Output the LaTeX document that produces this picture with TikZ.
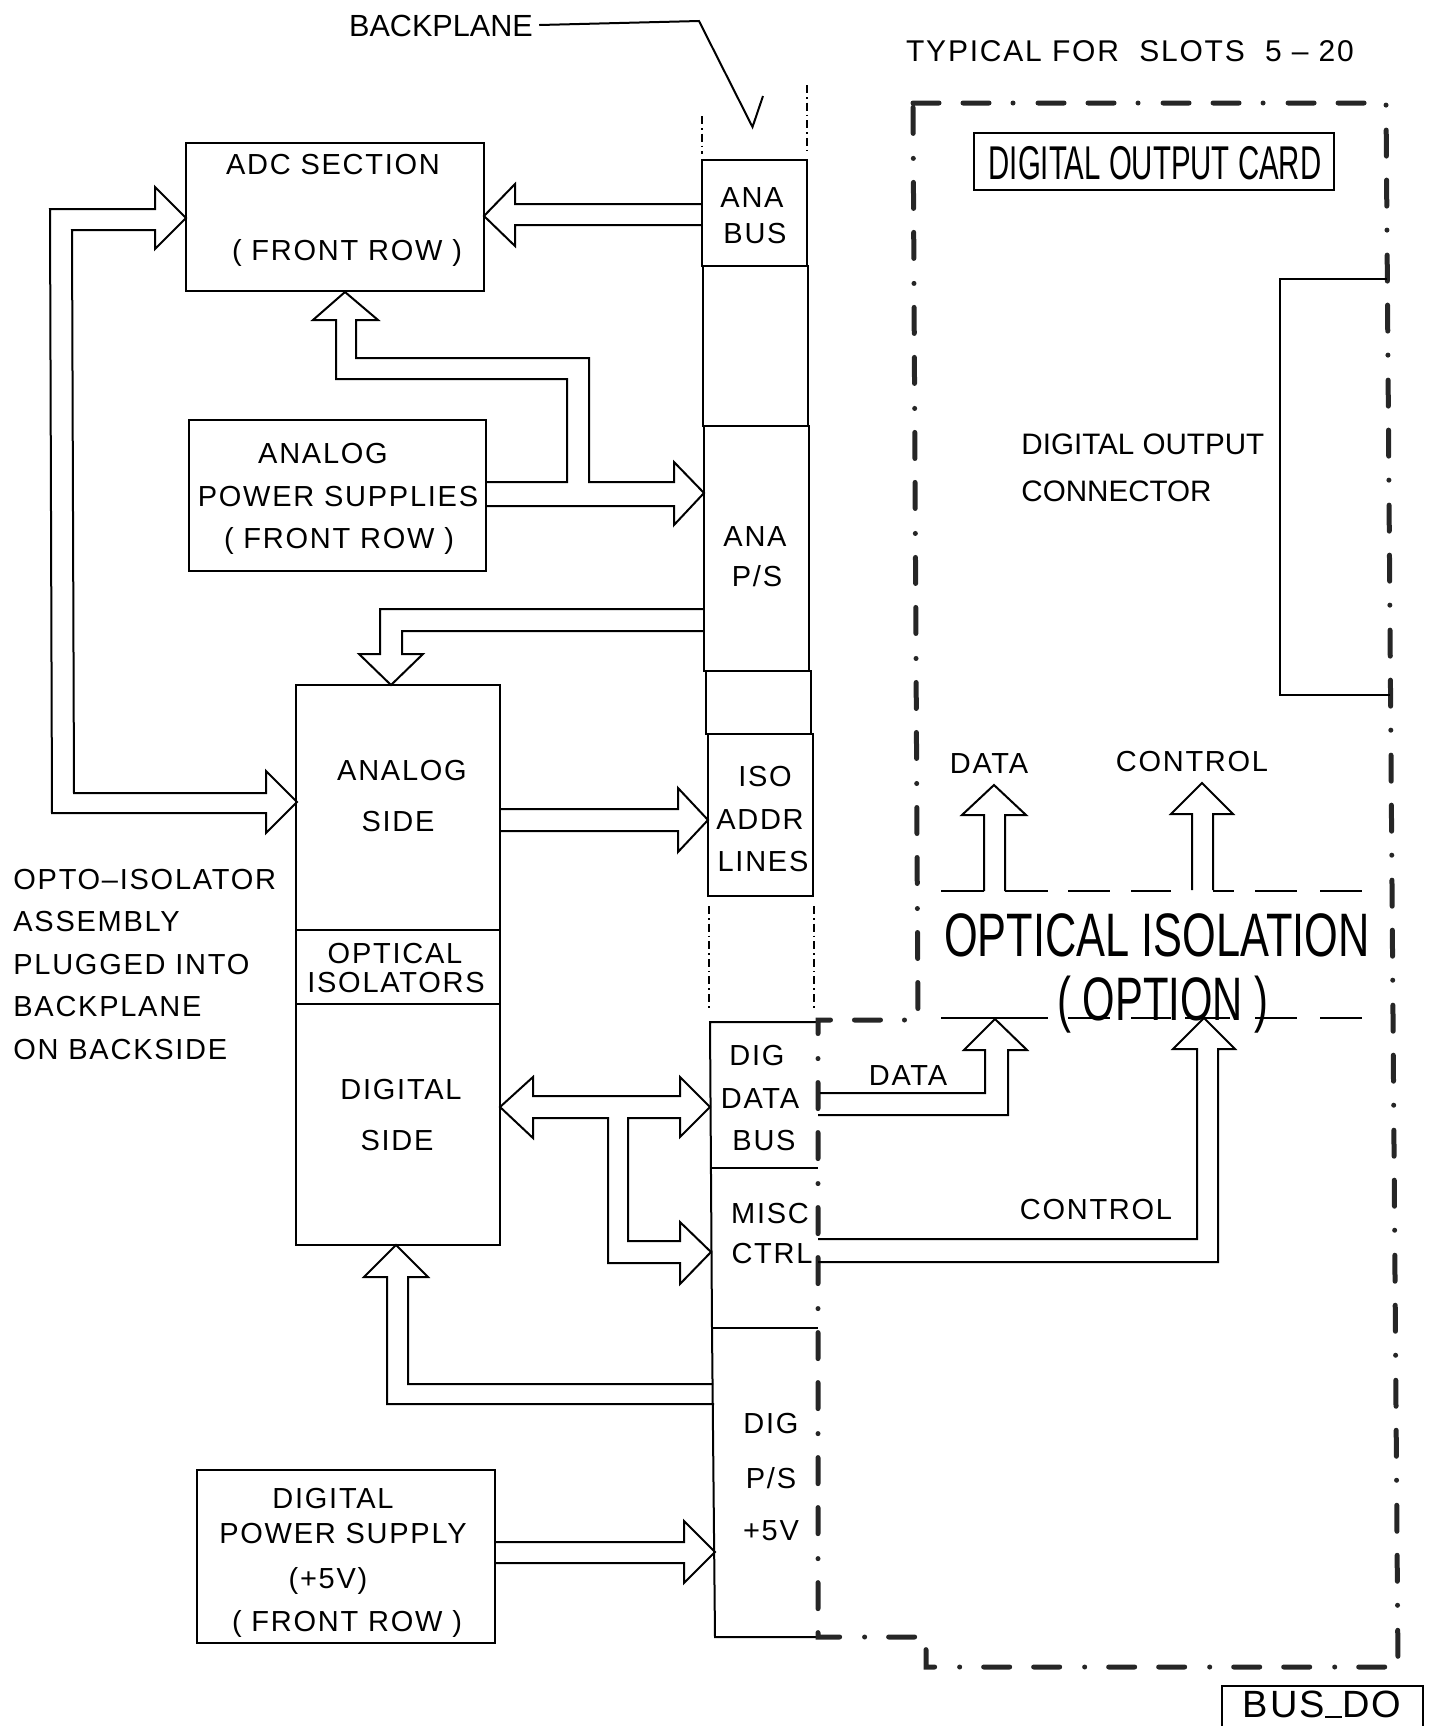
\documentclass[tikz,border=0pt]{standalone}
\usepackage{fontspec}
\setmainfont{Liberation Sans}[LetterSpace=6]
\newfontfamily\plainfont{Liberation Sans}
\usepackage{graphicx}
\usetikzlibrary{fit}
\begin{document}
\begin{tikzpicture}[x=0.5pt,y=-0.5pt,
  box/.style={draw, line width=1pt, inner sep=0pt},
  harrow/.style={draw, line width=1pt, line join=miter},
  ln/.style={line width=1pt},
  txt/.style={inner sep=0pt, text height=10.4pt, text depth=0pt, font=\fontsize{14.5}{17}\selectfont},
  txtp/.style={inner sep=0pt, text height=10.6pt, text depth=0pt, font=\plainfont\fontsize{14.8}{17}\selectfont},
  txtl/.style={inner sep=0pt, text height=11pt, text depth=0pt, font=\plainfont\fontsize{15.3}{18}\selectfont},
  txtt/.style={inner sep=0pt, text height=11pt, text depth=0pt, font=\fontsize{15}{18}\selectfont},
  cond/.style={inner sep=0pt, text height=17pt, text depth=0pt, font=\plainfont\fontsize{23.7}{26}\selectfont},
  condbig/.style={inner sep=0pt, text height=22pt, text depth=0pt, font=\plainfont\fontsize{30.7}{33}\selectfont},
  busdo/.style={inner sep=0pt, text height=13.5pt, text depth=0pt, font=\fontsize{19}{22}\selectfont},
  border/.style={line width=2.5pt, line cap=round, draw=black!85,
    dash pattern=on 13pt off 12pt on 13pt off 12pt on 0.01pt off 12.5pt},
  bpdash/.style={line width=0.7pt, dash pattern=on 4pt off 2pt on 0.8pt off 2pt},
  thin/.style={line width=0.9pt}
]
\useasboundingbox (0,0) rectangle (1436,1726);

% ---------- main boxes ----------
\node[box, fit={(186,143) (484,291)}] (adc) {};
\node[box, fit={(189,420) (486,571)}] (aps) {};
\node[box, fit={(296,685) (500,1245)}] (opto) {};
\draw[ln] (296,930) -- (500,930);
\draw[ln] (296,1004) -- (500,1004);
\node[box, fit={(197,1470) (495,1643)}] (dps) {};

% ---------- backplane column ----------
\node[box, fit={(702,160) (807,266)}] (anabus) {};
\node[box, fit={(703,266) (808,426)}] (bpa) {};
\node[box, fit={(704,426) (809,671)}] (anaps) {};
\node[box, fit={(706,671) (811,734)}] (bpb) {};
\node[box, fit={(708,734) (813,896)}] (isoaddr) {};
\draw[bpdash] (702,116) -- (702,154);
\draw[bpdash] (807,85) -- (807,152);
\draw[bpdash] (709,906) -- (709,1011);
\draw[bpdash] (814,906) -- (814,1011);
\coordinate (digdatatl) at (710,1022);
\coordinate (digpsbl) at (715,1637);
\draw[ln] (818,1022) -- (digdatatl) -- (712,1328) -- (digpsbl) -- (818,1637);
\draw[ln] (711,1168) -- (818,1168);
\draw[ln] (712,1328) -- (818,1328);

% ---------- card border ----------
\draw[border] (913,103) -- (1386,103) -- (1398,1667) -- (926,1667) -- (926,1637)
  -- (818,1637) -- (818,1020) -- (918,1020) -- cycle;
\node[box, fit={(974,133) (1334,190)}] (cardbox) {};
\coordinate (conntr) at (1387,279);
\draw[ln] (conntr) -- (1280,279) -- (1280,695) -- (1390,695);
\coordinate (busdotl) at (1222,1686);
\draw[ln] (1222,1730) -- (busdotl) -- (1423,1686) -- (1423,1730);

% ---------- backplane leader ----------
\node[txtl] (bplbl) at (441,25) {BACKPLANE};
\draw[ln] (bplbl.east) ++(6,0) -- (699,21) -- (752.5,127) -- (763,96);

% ---------- hollow arrows ----------
% ANA BUS -> ADC
\draw[harrow] (702,204) -- (515,204) -- (515,184) -- (484,216) -- (515,246) -- (515,225) -- (702,225);
% ADC <-> ANALOG SIDE (left loop)
\draw[harrow] (155,209) -- (50,209) -- (52,813) -- (266,813) -- (266,833) -- (297,802)
  -- (266,771) -- (266,793) -- (74,793) -- (72,230) -- (155,230) -- (155,249)
  -- (186,218) -- (155,187) -- cycle;
% ANALOG PS -> ANA P/S and ADC
\draw[harrow] (487,482) -- (567,482) -- (567,379) -- (336,379) -- (336,320) -- (313,320)
  -- (345,292) -- (378,320) -- (356,320) -- (356,358) -- (589,358) -- (589,482)
  -- (674,482) -- (674,462) -- (704,493) -- (674,525) -- (674,506) -- (487,506);
% ANA P/S -> ANALOG SIDE
\draw[harrow] (704,609) -- (380,609) -- (380,654) -- (359,654) -- (391,685) -- (423,654)
  -- (402,654) -- (402,631) -- (704,631);
% ANALOG SIDE -> ISO ADDR
\draw[harrow] (500,809) -- (678,809) -- (678,788) -- (708,820) -- (678,852) -- (678,831) -- (500,831);
% DIGITAL SIDE <-> DIG DATA BUS / MISC CTRL
\draw[harrow] (500,1107) -- (533,1077) -- (533,1096) -- (680,1096) -- (680,1077) -- (710,1107)
  -- (680,1137) -- (680,1118) -- (628,1118) -- (628,1241) -- (680,1241) -- (680,1222)
  -- (711,1252) -- (680,1284) -- (680,1263) -- (608,1263) -- (608,1118) -- (533,1118)
  -- (533,1138) -- cycle;
% DIG P/S -> DIGITAL SIDE
\draw[harrow] (713,1384) -- (408,1384) -- (408,1277) -- (428,1277) -- (396,1245) -- (364,1277)
  -- (387,1277) -- (387,1404) -- (714,1404);
% DIGITAL PS -> DIG P/S
\draw[harrow] (495,1542) -- (684,1542) -- (684,1521) -- (715,1552) -- (684,1583) -- (684,1563) -- (495,1563);
% DIG DATA BUS -> optical isolation (DATA)
\draw[harrow] (818,1115) -- (1008,1115) -- (1008,1050) -- (1027,1050) -- (995,1019)
  -- (964,1050) -- (985,1050) -- (985,1093) -- (820,1093);
% MISC CTRL -> optical isolation (CONTROL)
\draw[harrow] (818,1262) -- (1218,1262) -- (1218,1049) -- (1235,1049) -- (1204,1018)
  -- (1173,1049) -- (1197,1049) -- (1197,1239) -- (818,1239);
% upward DATA / CONTROL
\draw[harrow] (984,891) -- (984,815) -- (962,815) -- (994,785) -- (1026,815) -- (1005,815) -- (1005,891);
\draw[harrow] (1192,890) -- (1192,814) -- (1171,814) -- (1202,783) -- (1233,814) -- (1213,814) -- (1213,890);

% optical isolation dashed lines
\foreach \a/\b in {941/984, 1005/1048, 1068/1110, 1131/1171, 1213/1234, 1255/1297, 1320/1362}
  \draw[thin] (\a,891) -- (\b,891);
\foreach \a/\b in {941/994, 994/1048, 1068/1110, 1131/1171, 1185/1230, 1255/1297, 1320/1362}
  \draw[thin] (\a,1018) -- (\b,1018);

% ---------- texts ----------
\node[txtt] (typ) at (1130,50) {TYPICAL FOR\ \ SLOTS\ \ 5 – 20};
\node[txt] (t1) at (333,164) {ADC SECTION};
\node[txt] (t2) at (347,250) {( FRONT ROW )};
\node[txt] (t3) at (752,197) {ANA};
\node[txt] (t4) at (755,233) {BUS};
\node[txt] (t5) at (323,453) {ANALOG};
\node[txt] (t6) at (338,496) {POWER SUPPLIES};
\node[txt] (t7) at (339,538) {( FRONT ROW )};
\node[txt] (t8) at (755,536) {ANA};
\node[txt] (t9) at (757,576) {P/S};
\node[txt] (t10) at (402,770) {ANALOG};
\node[txt] (t11) at (398,821) {SIDE};
\node[txt] (t12) at (395,953) {OPTICAL};
\node[txt] (t13) at (396,982) {ISOLATORS};
\node[txt] (t14) at (401,1089) {DIGITAL};
\node[txt] (t15) at (397,1140) {SIDE};
\node[txt] (t16) at (765,776) {ISO};
\node[txt] (t17) at (760,819) {ADDR};
\node[txt] (t18) at (763,861) {LINES};
\node[txt, anchor=west] (t19) at (13,879) {OPTO–ISOLATOR};
\node[txt, anchor=west] (t20) at (13,921) {ASSEMBLY};
\node[txt, anchor=west] (t21) at (13,964) {PLUGGED INTO};
\node[txt, anchor=west] (t22) at (13,1006) {BACKPLANE};
\node[txt, anchor=west] (t23) at (13,1049) {ON BACKSIDE};
\node[txt] (t24) at (757,1055) {DIG};
\node[txt] (t25) at (760,1098) {DATA};
\node[txt] (t26) at (764,1140) {BUS};
\node[txt] (t27) at (770,1213) {MISC};
\node[txt] (t28) at (772,1253) {CTRL};
\node[txt] (t29) at (771,1423) {DIG};
\node[txt] (t30) at (771,1478) {P/S};
\node[txt] (t31) at (771,1530) {+5V};
\node[txt] (t32) at (333,1498) {DIGITAL};
\node[txt] (t33) at (343,1533) {POWER SUPPLY};
\node[txt] (t34) at (328,1578) {(+5V)};
\node[txt] (t35) at (347,1621) {( FRONT ROW )};
\node[cond] (t36) at (1155,162) {\scalebox{0.62}[1]{DIGITAL OUTPUT CARD}};
\node[txtp, anchor=west] (t37) at (1021,444) {DIGITAL OUTPUT};
\node[txtp, anchor=west] (t38) at (1021,491) {CONNECTOR};
\node[txt] (t39) at (989,763) {DATA};
\node[txt] (t40) at (1192,761) {CONTROL};
\node[condbig] (t41) at (1157,934) {\scalebox{0.706}[1]{OPTICAL ISOLATION}};
\node[condbig] (t42) at (1163,998) {\scalebox{0.68}[1]{( OPTION )}};
\node[txt] (t43) at (908,1075) {DATA};
\node[txt] (t44) at (1096,1209) {CONTROL};
\node[busdo] (t45) at (1322,1704) {BUS\rule{0.45em}{0.9pt}DO};
\end{tikzpicture}
\end{document}
